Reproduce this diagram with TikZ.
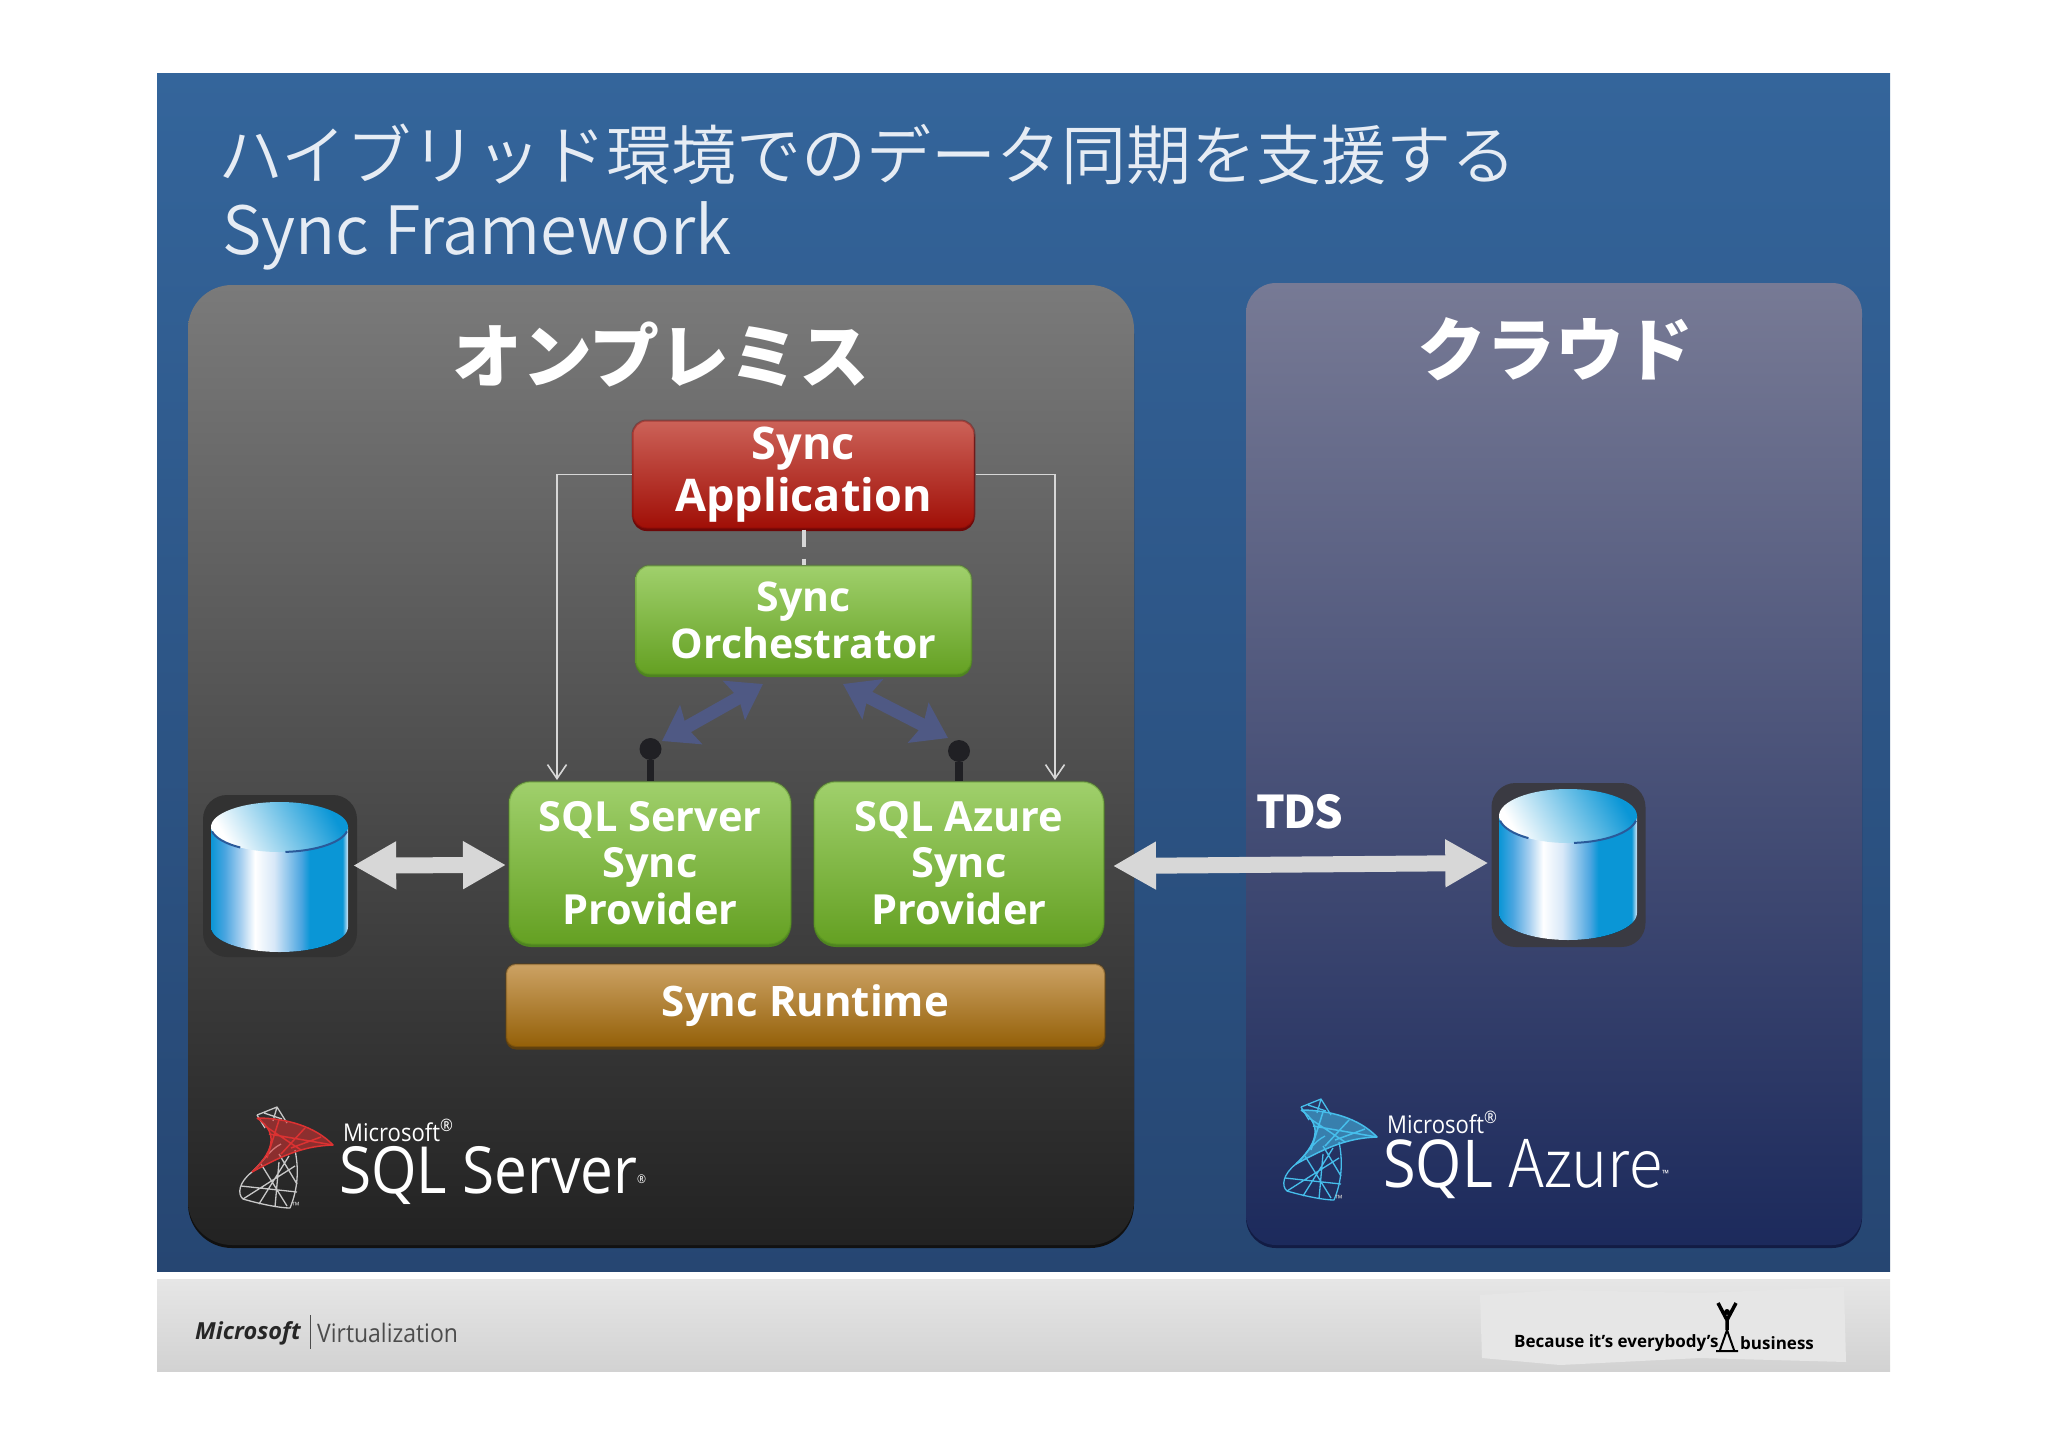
\documentclass[tikz,border=0pt]{standalone}
\usepackage{fontspec}
\setmainfont{Open Sans}
\newfontfamily\cjk{Noto Sans CJK JP}
\newfontfamily\cjklight{Noto Sans CJK JP DemiLight}
\newfontfamily\logofont{Open Sans}[FakeStretch=0.9]
\newfontfamily\azurefont{Noto Sans CJK JP Light}[FakeStretch=0.93]
\usetikzlibrary{arrows.meta,positioning,calc}

\definecolor{canblue}{HTML}{0A96D6}
\definecolor{canmid}{HTML}{4AA5E0}
\definecolor{canpale}{HTML}{A8D0F0}
\definecolor{canice}{HTML}{D8E8F8}
\definecolor{canrim}{HTML}{2A5A9A}
\definecolor{slidetop}{HTML}{34659B}
\definecolor{slidebot}{HTML}{264672}
\definecolor{footlight}{HTML}{E6E6E6}
\definecolor{footdark}{HTML}{D2D2D2}
\definecolor{paneltop}{HTML}{7A7A7A}
\definecolor{panelmid}{HTML}{424242}
\definecolor{panelbot}{HTML}{222222}
\definecolor{panelshade}{HTML}{111111}
\definecolor{cloudtop}{HTML}{777A95}
\definecolor{cloudmid}{HTML}{4B4C6E}
\definecolor{cloudbot}{HTML}{1C2A5C}
\definecolor{cloudshade}{HTML}{121C44}
\definecolor{greentop}{HTML}{A0D06C}
\definecolor{greenbot}{HTML}{64A022}
\definecolor{greenedge}{HTML}{4E8420}
\definecolor{redtop}{HTML}{CC6258}
\definecolor{redbot}{HTML}{A00E06}
\definecolor{rededge}{HTML}{6E0808}
\definecolor{ambertop}{HTML}{CCA264}
\definecolor{amberbot}{HTML}{946008}
\definecolor{amberedge}{HTML}{5E4010}
\definecolor{wiregrey}{HTML}{D7D7D7}
\definecolor{linkblue}{HTML}{4F5984}
\definecolor{stemdark}{HTML}{202024}
\definecolor{halodark}{HTML}{323232}
\definecolor{halocloud}{HTML}{3A3A42}
\definecolor{titletext}{HTML}{E6ECF4}
\definecolor{logored}{HTML}{DC3232}
\definecolor{logoazure}{HTML}{46BEEB}
\definecolor{logogrey}{HTML}{C8C8C8}
\definecolor{paper}{HTML}{E6E6E6}
\pgfdeclarehorizontalshading{canside}{100bp}{
  color(0bp)=(canblue); color(25bp)=(canblue); color(30bp)=(canmid); color(36bp)=(canpale);
  color(41bp)=(white); color(48bp)=(canice); color(58bp)=(canmid); color(61bp)=(canblue);
  color(73bp)=(canblue); color(75bp)=(canice); color(100bp)=(canice)}

\begin{document}
\begin{tikzpicture}[x=1pt, y=-1pt,
    box/.style={rectangle, shade, line width=2pt, draw opacity=.4, text=white, align=center, inner sep=0pt,
        preaction={fill=#1, transform canvas={yshift=-2.5pt}}, draw=#1},
    greenbox/.style={box=greenedge, top color=greentop, bottom color=greenbot},
    provider/.style={greenbox, rounded corners=22pt, minimum height=163pt, font=\fontsize{41.5}{46.5}\selectfont\bfseries},
    thinline/.style={draw=wiregrey, line width=1.6pt, -{Straight Barb[length=14pt,width=19pt]}},
    widearrow/.style={draw=wiregrey, line width=16pt, {Triangle[length=43pt,width=45pt]}-{Triangle[length=43pt,width=45pt]}},
    linkarrow/.style={draw=linkblue, line width=13pt, {Stealth[length=33pt,width=44pt,inset=5pt]}-{Stealth[length=33pt,width=44pt,inset=5pt]}},
    stem/.style={draw=stemdark, line width=7.5pt},
    dot/.style={circle, fill=stemdark, minimum size=22pt, inner sep=0pt},
    halo/.style={rectangle, rounded corners=24pt, fill=#1, minimum width=154pt, minimum height=162pt, inner sep=0pt},
    logoline/.style={text=white, inner sep=0pt, anchor=base west},
    logoicon/.pic={
        % bowl and goblet wires
        \begin{scope}[line width=1.3pt, line join=round]
        \draw [#1] (12,11) -- (32,3) -- (42,19) (12,11) -- (20,24) (32,3) -- (28,17) (19,9) -- (37,15);
        \draw [#1] (7,68) .. controls (-6,78) and (-8,90) .. (-2,95) .. controls (15,100) and (35,104) .. (45,104)
              .. controls (53,85) and (54,65) .. (50,46) (7,68) .. controls (18,58) and (24,46) .. (36,40);
        \draw [#1] (-2,95) -- (50,62) (14,100) -- (44,52) (30,103) -- (34,58) (-4,82) -- (52,88) (16,60) -- (42,102) (34,50) -- (52,80);
        \end{scope}
    },
    logowing/.pic={
        \begin{scope}[line width=1.5pt, line join=round]
        \fill [#1, opacity=.55] (12,14) .. controls (40,14) and (70,22) .. (88,41) .. controls (60,42) and (40,50) .. (7,68) .. controls (26,50) and (36,30) .. (12,14) -- cycle;
        \draw [#1] (12,14) .. controls (40,14) and (70,22) .. (88,41) .. controls (60,42) and (40,50) .. (7,68);
        \draw [#1] (12,14) .. controls (36,30) and (26,50) .. (7,68);
        \draw [#1] (34,16) -- (22,54) (60,24) -- (36,50) (24,30) -- (88,41) (20,22) -- (56,46) (76,33) -- (46,44);
        \end{scope}
    }]
    \useasboundingbox (0,0) rectangle (2048,1448);

    % Slide background and footer
    \shade [top color=slidetop, bottom color=slidebot] (157,73) rectangle (1890,1271);
    \shade [top color=footlight, bottom color=footdark] (157,1279) rectangle (1890,1371);

    % Panels
    \fill [panelshade, rounded corners=44pt] (188,290) rectangle (1134,1248);
    \shade [rounded corners=44pt, top color=paneltop, middle color=panelmid, bottom color=panelbot] (188,285) rectangle (1134,1245);
    \fill [cloudshade, rounded corners=30pt] (1246,288) rectangle (1862,1248);
    \shade [rounded corners=30pt, top color=cloudtop, middle color=cloudmid, bottom color=cloudbot] (1246,283) rectangle (1862,1245);

    % Titles
    \node [anchor=base west, inner sep=0pt, text=titletext, font=\cjklight\fontsize{65}{70}\selectfont] (title) at (218,179) {ハイブリッド環境でのデータ同期を支援する};
    \node [anchor=base west, inner sep=0pt, text=titletext, font=\cjklight\fontsize{66.5}{70}\selectfont] (subtitle) at (222,254) {Sync Framework};
    \node [text=white, font=\cjk\bfseries\fontsize{70}{70}\selectfont] (onprem) at (661,355) {オンプレミス};
    \node [text=white, font=\cjk\bfseries\fontsize{69}{70}\selectfont] (cloud) at (1555,349) {クラウド};

    % Main boxes
    \node [box=rededge, rounded corners=14pt, minimum width=342pt, minimum height=108pt, top color=redtop, bottom color=redbot, font=\fontsize{45}{52}\selectfont\bfseries] (app) at (803.5,474.5) {Sync\\Application};
    \node [greenbox, rounded corners=14pt, minimum width=336pt, minimum height=109pt, below=35pt of app, font=\fontsize{41}{47}\selectfont\bfseries] (orch) {Sync\\Orchestrator};
    \node [provider, minimum width=282pt] (ssp) at (650,863) {SQL Server\\Sync\\Provider};
    \node [provider, minimum width=290pt, right=21pt of ssp] (sap) {SQL Azure\\Sync\\Provider};
    \node [box=amberedge, rounded corners=10pt, minimum width=599pt, minimum height=83pt, top color=ambertop, bottom color=amberbot, font=\fontsize{42}{46}\selectfont\bfseries] (runtime) at (805.5,1005.5) {Sync Runtime};

    % Databases
    \node [halo=halodark] (srcdb) at (280,876) {};
    \node [halo=halocloud, minimum height=164pt] (clouddb) at (1568.5,865) {};
    \foreach \cx/\ctop/\cbot/\crx/\cry in {279.5/827/927/68.5/25, 1568/816/913/69/27} {
        \fill [shading=canside] (\cx-\crx,\ctop) -- (\cx-\crx,\cbot) arc [start angle=180, end angle=0, x radius=\crx, y radius=\cry] -- (\cx+\crx,\ctop) -- cycle;
        \shade [left color=white, middle color=canmid, right color=canblue, shading angle=120] (\cx,\ctop) ellipse [x radius=\crx, y radius=\cry];
        \draw [line width=2pt, canrim] (\cx,\ctop) ++(170:{\crx} and {\cry}) arc [start angle=170, end angle=125, x radius=\crx, y radius=\cry];
        \draw [line width=2pt, canrim] (\cx,\ctop) ++(10:{\crx} and {\cry}) arc [start angle=10, end angle=85, x radius=\crx, y radius=\cry];
    }

    % Lollipops on the providers
    \node [dot] (ssdot) at (650.5,749) {};
    \node [dot] (sadot) at (959,751) {};
    \draw [stem] (ssdot) -- (ssdot |- ssp.north);
    \draw [stem] (sadot) -- (sadot |- sap.north);
    \coordinate (orchleft) at (763,684);
    \coordinate (orchright) at (843,684);
    \coordinate (ssdotend) at (662,741);
    \coordinate (sadotend) at (948,738);
    \path [linkarrow] (orchleft) -- (ssdotend);
    \path [linkarrow] (orchright) -- (sadotend);

    % Control lines
    \coordinate (ssdrop) at (557,780);
    \coordinate (sadrop) at (1055,780);
    \path [thinline] (app.west) -| (ssdrop);
    \path [thinline] (app.east) -| (sadrop);
    \draw [draw=wiregrey, line width=4pt, dash pattern=on 17pt off 12pt] (app.south) -- (orch.north);

    % Data links
    \path [widearrow] ([xshift=-4pt,yshift=10.5pt]srcdb.east) -- ([xshift=-2pt,yshift=-2pt]ssp.west);
    \path [widearrow] ([xshift=8pt,yshift=-3pt]sap.east) -- ([xshift=-3pt,yshift=2pt]clouddb.west);
    \node [text=white, font=\cjk\bfseries\fontsize{45}{45}\selectfont\addfontfeature{LetterSpace=-4}, inner sep=0pt] (tds) at (1300,812) {TDS};

    % Logos
    \pic at (245,1104) {logoicon=logogrey};
    \pic at (245,1104) {logowing=logored};
    \pic at (1289,1096) {logoicon=logoazure};
    \pic at (1289,1096) {logowing=logoazure};
    \node [text=logogrey, inner sep=0pt, font=\fontsize{10}{10}\selectfont] (tmleft) at (296,1206) {™};
    \node [text=logogrey, inner sep=0pt, font=\fontsize{10}{10}\selectfont] (tmright) at (1339,1199) {™};
    \node [logoline, font=\logofont\fontsize{24.5}{25}\selectfont] (msleft) at (343,1141) {Microsoft\textsuperscript{®}};
    \node [logoline, font=\logofont\fontsize{65}{66}\selectfont] (sqlleft) at (339,1193) {SQL Server\smash{\textsuperscript{\fontsize{12}{12}\selectfont ®}}};
    \node [logoline, font=\logofont\fontsize{24.5}{25}\selectfont] (msright) at (1387,1133) {Microsoft\textsuperscript{®}};
    \node [logoline, font=\logofont\fontsize{66}{66}\selectfont] (sqlright) at (1383,1187) {SQL {\azurefont Azure}\smash{\textsuperscript{\fontsize{10}{10}\selectfont ™}}};

    % Footer content
    \node [anchor=west, inner sep=0pt, text=black!85, font=\bfseries\itshape\fontsize{23.5}{24}\selectfont] (mslogo) at (195,1333) {Microsoft};
    \draw [black!70, line width=1pt] (310,1315) -- (310,1349);
    \node [anchor=west, inner sep=0pt, text=black!70, font=\logofont\fontsize{25.5}{26}\selectfont] (virt) at (317,1333) {Virtualization};
    \fill [paper] (1480,1295) -- (1560,1290) -- (1700,1293) -- (1844,1287) -- (1846,1362) -- (1700,1358) -- (1560,1365) -- (1482,1358) -- cycle;
    \node [anchor=west, inner sep=0pt, font=\bfseries\fontsize{17}{18}\selectfont] (because) at (1514,1343) {Because it's everybody's};
    \node [anchor=west, inner sep=0pt, font=\bfseries\fontsize{17}{18}\selectfont] (business) at (1740,1343) {business};
    \fill [black] (1727,1312) circle [radius=3];
    \draw [black, line width=3.5pt] (1727,1316) -- (1727,1330) (1718,1303) -- (1727,1320) -- (1736,1303);
    \draw [black, line width=2pt] (1727,1330) -- (1720,1350) (1727,1330) -- (1734,1350) (1716,1351) -- (1738,1351);
\end{tikzpicture}
\end{document}
